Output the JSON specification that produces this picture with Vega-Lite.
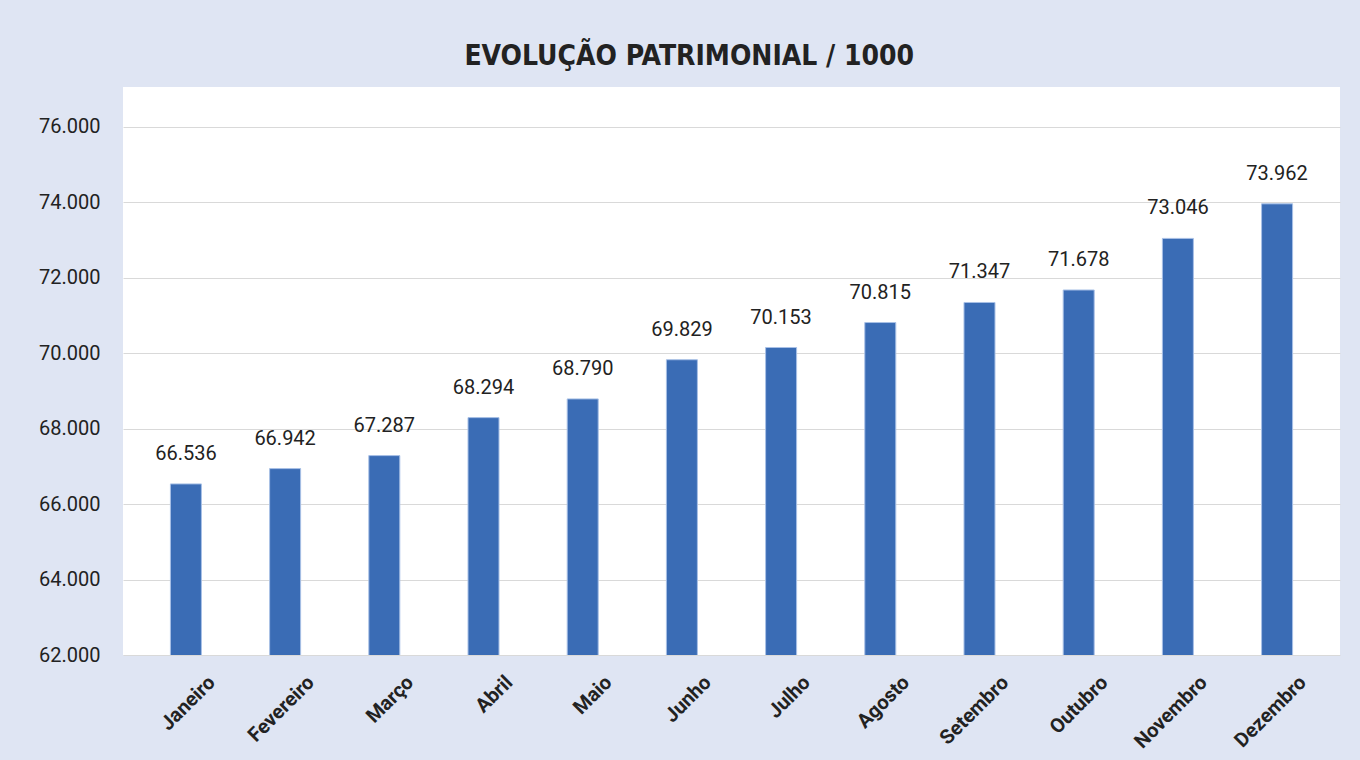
{
  "$schema": "https://vega.github.io/schema/vega-lite/v6.json",
  "width": 1217,
  "height": 568,
  "autosize": {"type": "none"},
  "padding": {"left": 123, "top": 87, "right": 20, "bottom": 105},
  "background": "#dfe5f3",
  "config": {
    "locale": {"number": {"decimal": ",", "thousands": ".", "grouping": [3], "currency": ["R$", ""]}},
    "view": {"fill": "white", "stroke": null},
    "font": "Roboto"
  },
  "title": {
    "text": "EVOLUÇÃO PATRIMONIAL / 1000",
    "font": "DejaVu Sans Condensed, Roboto",
    "fontSize": 28,
    "fontWeight": "bold",
    "color": "#222222",
    "anchor": "middle",
    "frame": "bounds",
    "offset": 16
  },
  "data": {
    "values": [
      {"mes": "Janeiro", "valor": 66536},
      {"mes": "Fevereiro", "valor": 66942},
      {"mes": "Março", "valor": 67287},
      {"mes": "Abril", "valor": 68294},
      {"mes": "Maio", "valor": 68790},
      {"mes": "Junho", "valor": 69829},
      {"mes": "Julho", "valor": 70153},
      {"mes": "Agosto", "valor": 70815},
      {"mes": "Setembro", "valor": 71347},
      {"mes": "Outubro", "valor": 71678},
      {"mes": "Novembro", "valor": 73046},
      {"mes": "Dezembro", "valor": 73962}
    ]
  },
  "encoding": {
    "x": {
      "field": "mes",
      "type": "nominal",
      "sort": null,
      "scale": {"paddingInner": 0.6875, "paddingOuter": 0.478},
      "axis": {
        "title": null,
        "labelAngle": -45,
        "labelAlign": "right",
        "labelBaseline": "middle",
        "labelOffset": 26,
        "labelPadding": 24,
        "labelFontSize": 20,
        "labelFontWeight": "bold",
        "labelColor": "#222222",
        "labelFont": "Roboto",
        "domain": false,
        "ticks": false
      }
    },
    "y": {
      "field": "valor",
      "type": "quantitative",
      "scale": {"domain": [62000, 77060], "nice": false, "zero": false},
      "axis": {
        "title": null,
        "values": [62000, 64000, 66000, 68000, 70000, 72000, 74000, 76000],
        "format": ",d",
        "domain": false,
        "ticks": false,
        "grid": true,
        "gridColor": "#d9d9d9",
        "gridWidth": 1,
        "labelFontSize": 20,
        "labelColor": "#222222",
        "labelFont": "Roboto",
        "labelPadding": 23
      }
    }
  },
  "layer": [
    {"mark": {"type": "bar", "color": "#3a6cb5", "stroke": "#a8c0e6", "strokeWidth": 1, "clip": true}},
    {
      "mark": {"type": "text", "dy": -24, "fontSize": 20, "baseline": "alphabetic", "color": "#222222", "font": "Roboto"},
      "encoding": {"text": {"field": "valor", "type": "quantitative", "format": ",d"}}
    }
  ]
}
